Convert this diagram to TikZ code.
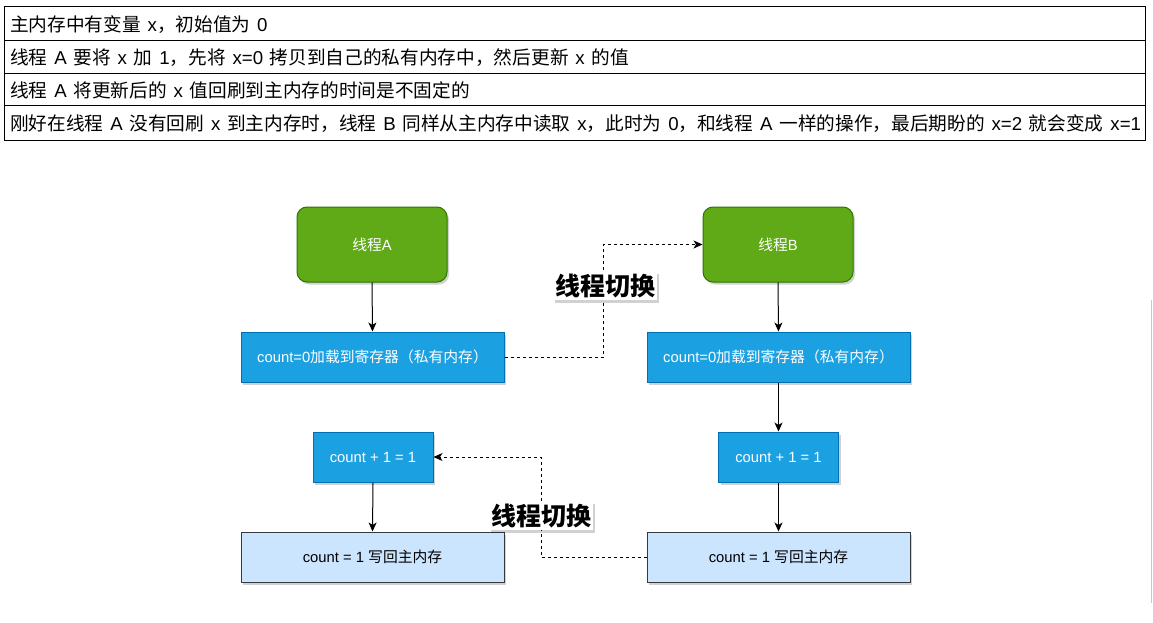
\documentclass[tikz,border=0pt]{standalone}
\usepackage{fontspec}
\setmainfont{Liberation Sans}
\newfontfamily\zhfont{Noto Sans CJK SC}
\usetikzlibrary{arrows.meta,shadows}
\newcommand{\Z}[1]{{\zhfont #1}}
\newcommand{\tabfont}{\fontsize{18.67}{22}\selectfont\spaceskip=6.8pt plus 1pt\relax}
\definecolor{gfill}{HTML}{60A917}
\definecolor{gdraw}{HTML}{2D7600}
\definecolor{bfill}{HTML}{1BA1E2}
\definecolor{bdraw}{HTML}{006EAF}
\definecolor{lfill}{HTML}{CCE5FF}
\definecolor{ldraw}{HTML}{36393D}
\begin{document}
\begin{tikzpicture}[x=1pt,y=-1pt,
  tabtext/.style={anchor=west,inner sep=0pt,font=\tabfont},
  shad/.style={drop shadow={shadow xshift=2pt,shadow yshift=-2.5pt,opacity=0.18,fill=black}},
  thread/.style={shad,rounded corners=10pt,fill=gfill,draw=gdraw,line width=1pt,
    minimum width=150pt,minimum height=75pt,inner sep=0pt,text=white,
    font=\fontsize{14.8}{17}\selectfont},
  proc/.style={shad,fill=bfill,draw=bdraw,line width=1pt,minimum height=50pt,inner sep=0pt,
    text=white,font=\fontsize{14.8}{17}\selectfont},
  store/.style={shad,fill=lfill,draw=ldraw,line width=1pt,minimum height=50pt,inner sep=0pt,
    text=black,font=\fontsize{14.8}{17}\selectfont},
  switchlbl/.style={shad,fill=white,inner sep=2pt,font=\zhfont\bfseries\fontsize{25}{29}\selectfont},
  flow/.style={line width=1pt,-{Stealth[length=9pt,width=8pt,inset=2.5pt]}},
  dflow/.style={flow,dash pattern=on 3pt off 3pt}
]
\useasboundingbox (0,0) rectangle (1153,623);
\fill[white] (0,0) rectangle (1153,623);
% table
\draw[line width=1pt] (4,7) rectangle (1145,140);
\draw[line width=1pt] (4,41) -- (1145,41);
\draw[line width=1pt] (4,73.5) -- (1145,73.5);
\draw[line width=1pt] (4,106) -- (1145,106);
\node[tabtext] (r1) at (10,24.5) {\Z{主内存中有变量} x\Z{，初始值为} 0};
\node[tabtext] (r2) at (10,57.5) {\Z{线程} A \Z{要将} x \Z{加} 1\Z{，先将} x=0 \Z{拷贝到自己的私有内存中，然后更新} x \Z{的值}};
\node[tabtext] (r3) at (10,90) {\Z{线程} A \Z{将更新后的} x \Z{值回刷到主内存的时间是不固定的}};
\node[tabtext] (r4) at (10,123.5) {\Z{刚好在线程} A \Z{没有回刷} x \Z{到主内存时，线程} B \Z{同样从主内存中读取} x\Z{，此时为} 0\Z{，和线程} A \Z{一样的操作，最后期盼的} x=2 \Z{就会变成} x=1};
% scrollbar trace
\draw[black!22,line width=1.2pt] (1151.5,300) -- (1151.5,603);
% nodes
\node[thread] (tA) at (372,244.5) {\Z{线程}A};
\node[thread] (tB) at (778,244.5) {\Z{线程}B};
\node[proc,minimum width=263pt] (a1) at (372.5,357) {count=0\Z{加载到寄存器（私有内存）}};
\node[proc,minimum width=263pt] (b1) at (778.5,357) {count=0\Z{加载到寄存器（私有内存）}};
\node[proc,minimum width=120pt] (a2) at (373,457) {count + 1 = 1};
\node[proc,minimum width=120pt] (b2) at (778.5,457) {count + 1 = 1};
\node[store,minimum width=263pt] (a3) at (372.5,557) {count = 1 \Z{写回主内存}};
\node[store,minimum width=263pt] (b3) at (778.5,557) {count = 1 \Z{写回主内存}};
% solid arrows
\draw[flow] (tA.south) -- (a1.north);
\draw[flow] (tB.south) -- (b1.north);
\draw[flow] (b1.south) -- (b2.north);
\draw[flow] (a2.south) -- (a3.north);
\draw[flow] (b2.south) -- (b3.north);
% dashed switches
\coordinate (k1) at (603,357);
\coordinate (k2) at (541,557);
\draw[dflow] (a1.east) -- (k1) |- (tB.west);
\draw[dflow] (b3.west) -- (k2) |- (a2.east);
\node[switchlbl] (s1) at (605,286) {线程切换};
\node[switchlbl] (s2) at (541,516) {线程切换};
\end{tikzpicture}
\end{document}
